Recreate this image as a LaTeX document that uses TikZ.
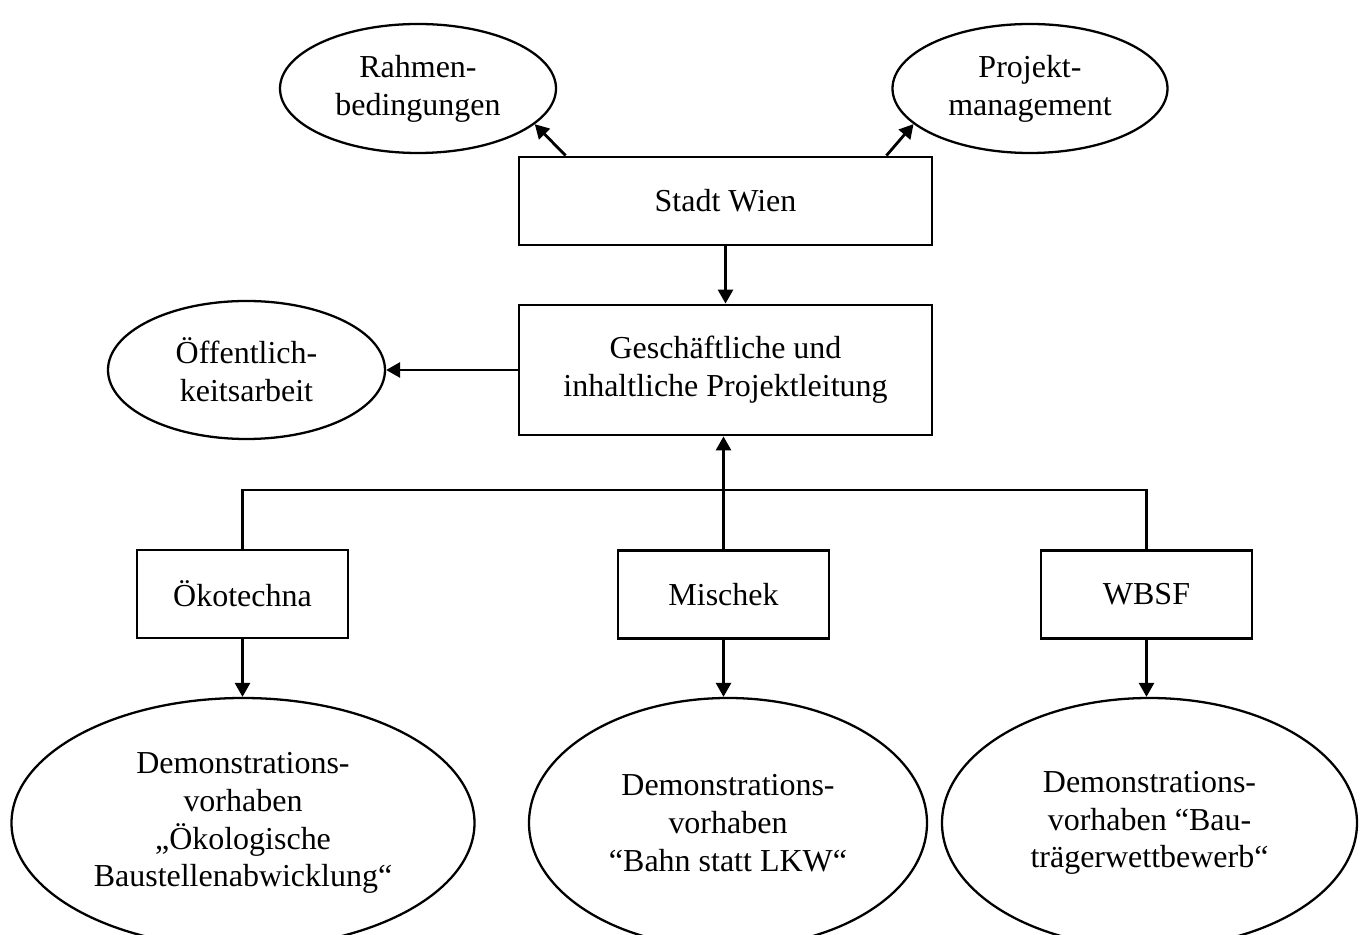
\documentclass[tikz,border=0pt]{standalone}
\usepackage{fontspec}
\setmainfont{Liberation Serif}
\usetikzlibrary{arrows.meta,shapes.geometric}

\begin{document}
\begin{tikzpicture}[
    box/.style={draw, line width=1.6pt, rectangle, align=center, inner sep=0pt},
    oval/.style={draw, line width=1.3pt, ellipse, align=center, inner sep=0pt},
    arr/.style={line width=1.6pt, -{Triangle[length=0.28cm, width=0.3cm]}},
    link/.style={line width=1.6pt},
    every node/.style={font=\fontsize{18.2pt}{21.5pt}\selectfont}
]
    \useasboundingbox (0,0) rectangle (27.24,18.7);
    \clip (0,0) rectangle (27.24,18.7);

    % Top level
    \node[oval, minimum width=5.52cm, minimum height=2.58cm] (rahmen) at (8.36,16.93) {Rahmen-\\bedingungen};
    \node[oval, minimum width=5.5cm, minimum height=2.58cm] (projekt) at (20.6,16.93) {Projekt-\\management};
    \node[box, minimum width=8.26cm, minimum height=1.76cm] (stadt) at (14.51,14.68) {Stadt Wien};

    % Project lead
    \node[box, minimum width=8.26cm, minimum height=2.6cm] (leitung) at (14.51,11.3) {Geschäftliche und\\inhaltliche Projektleitung};
    \node[oval, minimum width=5.54cm, minimum height=2.76cm] (oeff) at (4.93,11.3) {Öffentlich-\\keitsarbeit};

    % Partners
    \node[box, minimum width=4.22cm, minimum height=1.76cm] (oeko) at (4.85,6.82) {Ökotechna};
    \node[box, minimum width=4.22cm, minimum height=1.76cm] (mischek) at (14.47,6.81) {Mischek};
    \node[box, minimum width=4.22cm, minimum height=1.76cm] (wbsf) at (22.93,6.81) {WBSF};

    % Demonstration projects
    \node[oval, minimum width=9.26cm, minimum height=5cm] (demoa) at (4.86,2.24) {Demonstrations-\\vorhaben\\„Ökologische\\Baustellenabwicklung“};
    \node[oval, minimum width=7.96cm, minimum height=5cm] (demob) at (14.56,2.24) {Demonstrations-\\vorhaben\\“Bahn statt LKW“};
    \node[oval, minimum width=8.3cm, minimum height=5cm] (democ) at (22.99,2.24) {Demonstrations-\\vorhaben “Bau-\\trägerwettbewerb“};

    % Connectors
    \draw[arr] ([xshift=0.96cm]stadt.north west) -- (rahmen.-17);
    \draw[arr] ([xshift=-0.94cm]stadt.north east) -- (projekt.-163);
    \draw[arr] (stadt.south) -- (leitung.north);
    \draw[arr] (leitung.west) -- (oeff.east);

    % Bus line
    \coordinate (bus) at (0,8.9);
    \draw[link] (oeko.north) -- (oeko.north |- bus) -| (wbsf.north);
    \draw[arr] (mischek.north) -- (mischek.north |- leitung.south);

    \draw[arr] (oeko.south) -- (oeko.south |- demoa.north);
    \draw[arr] (mischek.south) -- (mischek.south |- demob.north);
    \draw[arr] (wbsf.south) -- (wbsf.south |- democ.north);
\end{tikzpicture}
\end{document}
